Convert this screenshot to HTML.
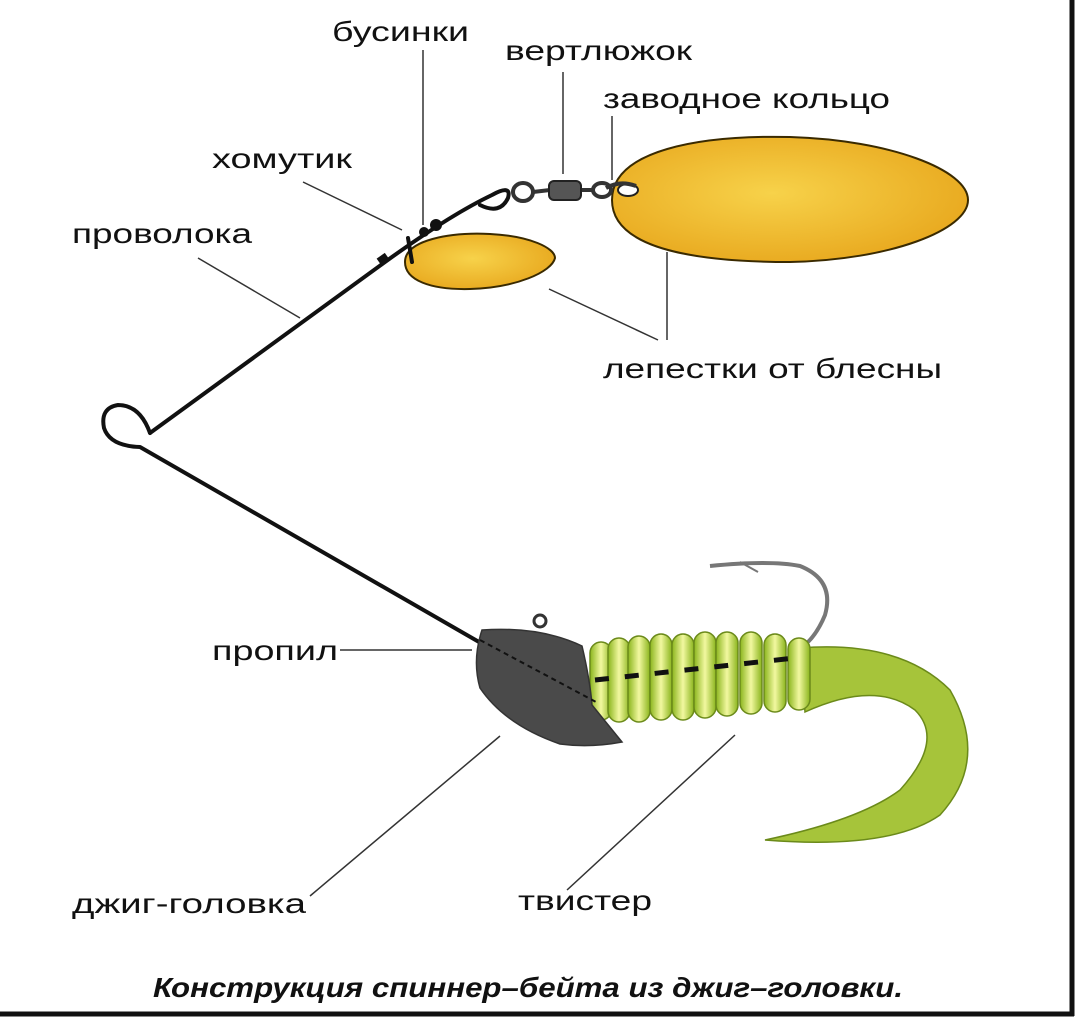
<!DOCTYPE html>
<html><head><meta charset="utf-8"><style>
html,body{margin:0;padding:0;background:#fff;}
svg{display:block}
text{font-family:"Liberation Sans",sans-serif;fill:#111;}
</style></head><body>
<svg width="1080" height="1024" viewBox="0 0 1080 1024" xmlns="http://www.w3.org/2000/svg">
<defs>
<radialGradient id="gold" cx="0.45" cy="0.45" r="0.6">
<stop offset="0" stop-color="#f7d24a"/><stop offset="1" stop-color="#e8a81e"/></radialGradient>
<linearGradient id="seg" x1="0" x2="1" y1="0" y2="0">
<stop offset="0" stop-color="#8ab51c"/><stop offset="0.5" stop-color="#f2f8a0"/><stop offset="1" stop-color="#8ab51c"/></linearGradient>
</defs>
<rect width="1080" height="1024" fill="#fff"/>
<line x1="1072" y1="0" x2="1072" y2="1016" stroke="#111" stroke-width="5"/>
<line x1="0" y1="1014" x2="1074" y2="1014" stroke="#111" stroke-width="5"/>

<g font-size="28">
<text x="332" y="41" textLength="137" lengthAdjust="spacingAndGlyphs">бусинки</text>
<text x="505" y="60" textLength="187" lengthAdjust="spacingAndGlyphs">вертлюжок</text>
<text x="603" y="108" textLength="287" lengthAdjust="spacingAndGlyphs">заводное кольцо</text>
<text x="212" y="168" textLength="140" lengthAdjust="spacingAndGlyphs">хомутик</text>
<text x="72" y="243" textLength="180" lengthAdjust="spacingAndGlyphs">проволока</text>
<text x="603" y="378" textLength="339" lengthAdjust="spacingAndGlyphs">лепестки от блесны</text>
<text x="212" y="660" textLength="126" lengthAdjust="spacingAndGlyphs">пропил</text>
<text x="72" y="913" textLength="234" lengthAdjust="spacingAndGlyphs">джиг-головка</text>
<text x="518" y="910" textLength="134" lengthAdjust="spacingAndGlyphs">твистер</text>
</g>
<text x="153" y="997" font-size="28" font-weight="bold" font-style="italic" textLength="750" lengthAdjust="spacingAndGlyphs">Конструкция спиннер–бейта из джиг–головки.</text>

<g stroke="#333" stroke-width="1.5" fill="none">
<line x1="423" y1="50" x2="423" y2="225"/>
<line x1="563" y1="72" x2="563" y2="174"/>
<line x1="612" y1="116" x2="612" y2="180"/>
<line x1="303" y1="182" x2="402" y2="230"/>
<line x1="198" y1="258" x2="300" y2="318"/>
<line x1="549" y1="289" x2="658" y2="340"/>
<line x1="667" y1="252" x2="667" y2="340"/>
<line x1="340" y1="650" x2="472" y2="650"/>
<line x1="310" y1="896" x2="500" y2="736"/>
<line x1="567" y1="890" x2="735" y2="735"/>
</g>

<path d="M612 200 C612 150 700 135 790 137 C890 140 968 170 968 200 C968 230 890 260 790 262 C700 262 612 250 612 200 Z" fill="url(#gold)" stroke="#3a2a00" stroke-width="2"/>
<ellipse cx="628" cy="190" rx="10" ry="6" fill="#fff" stroke="#222" stroke-width="2"/>
<path d="M405 262 C405 240 450 232 490 234 C530 236 555 248 555 258 C552 272 515 288 470 289 C430 290 405 280 405 262 Z" fill="url(#gold)" stroke="#3a2a00" stroke-width="2"/>

<g fill="none" stroke="#333" stroke-width="4">
<ellipse cx="523" cy="192" rx="10" ry="9"/>
<line x1="533" y1="192" x2="550" y2="190"/>
<line x1="580" y1="190" x2="595" y2="190"/>
<ellipse cx="602" cy="190" rx="9" ry="7"/>
<path d="M606 188 Q620 180 636 186"/>
</g>
<rect x="549" y="181" width="32" height="19" rx="5" fill="#555" stroke="#222" stroke-width="2"/>

<g fill="none" stroke="#111" stroke-width="4" stroke-linecap="round" stroke-linejoin="round">
<path d="M150 433 L385 262 Q450 215 492 195 Q512 184 508 198 Q500 215 480 205"/>
<path d="M150 433 Q140 405 118 405 Q100 408 104 428 Q110 446 140 447 L486 646"/>
<path d="M408 238 L412 262"/>
</g>
<g fill="#111">
<circle cx="436" cy="225" r="6"/>
<circle cx="424" cy="232" r="5"/>
<rect x="378" y="255" width="10" height="8" transform="rotate(-35 383 259)"/>
</g>

<path d="M710 566 Q770 560 800 566 Q835 580 825 615 Q818 632 808 642" fill="none" stroke="#777" stroke-width="4"/>
<path d="M740 562 L758 572" stroke="#777" stroke-width="2"/>

<path d="M800 648 Q900 640 950 690 Q990 760 940 815 Q890 850 765 840 Q860 820 900 790 Q945 740 915 710 Q875 680 805 712 Z" fill="#a6c43a" stroke="#6b8a1a" stroke-width="1.5"/>

<g stroke="#6b8a1a" stroke-width="1.5" fill="url(#seg)">
<rect x="590" y="642" width="22" height="78" rx="11"/>
<rect x="608" y="638" width="22" height="84" rx="11"/>
<rect x="628" y="636" width="22" height="86" rx="11"/>
<rect x="650" y="634" width="22" height="86" rx="11"/>
<rect x="672" y="634" width="22" height="86" rx="11"/>
<rect x="694" y="632" width="22" height="86" rx="11"/>
<rect x="716" y="632" width="22" height="84" rx="11"/>
<rect x="740" y="632" width="22" height="82" rx="11"/>
<rect x="764" y="634" width="22" height="78" rx="11"/>
<rect x="788" y="638" width="22" height="72" rx="11"/>
</g>
<path d="M595 680 L795 658" stroke="#111" stroke-width="5" stroke-dasharray="14 16" fill="none"/>

<circle cx="540" cy="621" r="6" fill="none" stroke="#333" stroke-width="3"/>
<path d="M482 630 Q540 626 582 646 Q590 680 592 705 L622 742 Q590 748 560 744 Q505 725 480 688 Q472 660 482 630 Z" fill="#4a4a4a" stroke="#333" stroke-width="1.5"/>
<path d="M480 640 L596 702" stroke="#111" stroke-width="2" stroke-dasharray="5 4"/>
</svg>
</body></html>
